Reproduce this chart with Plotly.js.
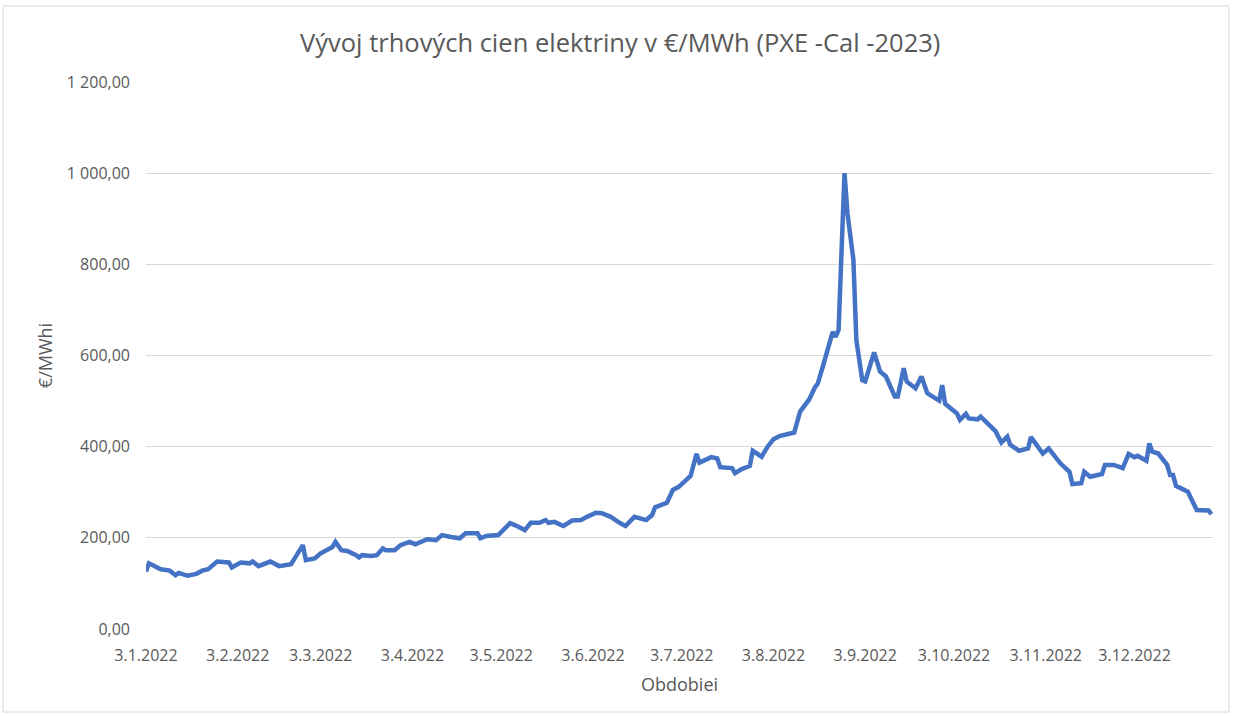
<!DOCTYPE html>
<html>
<head>
<meta charset="utf-8">
<script src="https://cdn.plot.ly/plotly-3.0.1.min.js"></script>
<style>
html,body{margin:0;padding:0;background:#fff;}
#chart{width:1233px;height:716px;}
</style>
</head>
<body>
<div id="chart"></div>
<script>
const dates = [
"2022-01-03","2022-01-04","2022-01-08","2022-01-11","2022-01-13","2022-01-14","2022-01-17","2022-01-20","2022-01-22","2022-01-24",
"2022-01-27","2022-01-31","2022-02-01","2022-02-04","2022-02-07","2022-02-08","2022-02-10","2022-02-14","2022-02-17","2022-02-21",
"2022-02-25","2022-02-26","2022-03-01","2022-03-03","2022-03-07","2022-03-08","2022-03-10","2022-03-12","2022-03-15","2022-03-16",
"2022-03-17","2022-03-20","2022-03-22","2022-03-24","2022-03-25","2022-03-28","2022-03-30","2022-04-02","2022-04-04","2022-04-08",
"2022-04-11","2022-04-13","2022-04-16","2022-04-19","2022-04-21","2022-04-25","2022-04-26","2022-04-28","2022-05-02","2022-05-03",
"2022-05-06","2022-05-08","2022-05-11","2022-05-13","2022-05-16","2022-05-18","2022-05-19","2022-05-21","2022-05-24","2022-05-27",
"2022-05-30","2022-06-01","2022-06-04","2022-06-06","2022-06-09","2022-06-12","2022-06-14","2022-06-17","2022-06-21","2022-06-23",
"2022-06-24","2022-06-28","2022-06-30","2022-07-02","2022-07-05","2022-07-06","2022-07-08","2022-07-09","2022-07-11","2022-07-13",
"2022-07-15","2022-07-16","2022-07-20","2022-07-21","2022-07-23","2022-07-26","2022-07-27","2022-07-30","2022-08-01","2022-08-03",
"2022-08-05","2022-08-10","2022-08-12","2022-08-15","2022-08-17","2022-08-18","2022-08-20","2022-08-23","2022-08-24","2022-08-25",
"2022-08-27","2022-08-28","2022-08-30","2022-08-31","2022-09-02","2022-09-03","2022-09-06","2022-09-08","2022-09-10","2022-09-13",
"2022-09-14","2022-09-16","2022-09-17","2022-09-20","2022-09-22","2022-09-24","2022-09-28","2022-09-29","2022-09-30","2022-10-04",
"2022-10-05","2022-10-07","2022-10-08","2022-10-11","2022-10-12","2022-10-15","2022-10-17","2022-10-19","2022-10-21","2022-10-22",
"2022-10-25","2022-10-28","2022-10-29","2022-11-02","2022-11-04","2022-11-08","2022-11-11","2022-11-12","2022-11-15","2022-11-16",
"2022-11-18","2022-11-22","2022-11-23","2022-11-26","2022-11-29","2022-12-01","2022-12-03","2022-12-04","2022-12-07","2022-12-08",
"2022-12-09","2022-12-11","2022-12-14","2022-12-15","2022-12-16","2022-12-17","2022-12-21","2022-12-24","2022-12-28","2022-12-29"
];
const prices = [
126,144,131,128,118,123,117,121,128,131,
148,146,135,146,144,148,138,148,138,142,
184,151,155,166,180,191,173,171,162,157,
162,160,162,177,173,173,184,191,186,197,
195,206,202,199,210,210,199,204,206,213,
232,227,217,233,233,239,233,235,226,238,
239,246,255,254,246,233,226,246,239,250,
267,277,305,312,331,336,384,365,371,377,
374,355,353,342,350,358,391,378,400,416,
423,431,477,503,530,539,583,652,641,656,
1000,912,810,634,546,543,607,565,554,510,
510,572,543,528,554,517,501,535,494,473,
459,472,462,460,466,448,434,409,422,404,
391,396,421,385,396,363,345,318,320,345,
334,340,360,360,353,384,377,380,369,407,
389,385,360,338,338,314,301,261,260,252
];
const xTickVals = ["2022-01-03","2022-02-03","2022-03-03","2022-04-03","2022-05-03","2022-06-03","2022-07-03","2022-08-03","2022-09-03","2022-10-03","2022-11-03","2022-12-03"];
const xTickText = ["3.1.2022","3.2.2022","3.3.2022","3.4.2022","3.5.2022","3.6.2022","3.7.2022","3.8.2022","3.9.2022","3.10.2022","3.11.2022","3.12.2022"];
const yTickVals = [0,200,400,600,800,1000,1200];
const yTickText = ["0,00","200,00","400,00","600,00","800,00","1 000,00","1 200,00"];

const FONT = "Open Sans, sans-serif";
const GREY = "#595959";

const trace = {
  x: dates, y: prices, type: "scatter", mode: "lines",
  line: {color: "#4472C4", width: 4.5, shape: "linear"},
  hoverinfo: "x+y"
};

const layout = {
  width: 1233, height: 716,
  margin: {l: 146, r: 20, t: 82, b: 87},
  paper_bgcolor: "#fff", plot_bgcolor: "#fff",
  showlegend: false,
  title: {text: "Vývoj trhových cien elektriny v €/MWh (PXE -Cal -2023)", x: 0.503, xref: "container", y: 0.94, yanchor: "middle",
          font: {family: FONT, size: 25.5, color: GREY}},
  xaxis: {
    type: "date", range: ["2022-01-03", "2022-12-29 12:00"],
    tickvals: xTickVals, ticktext: xTickText,
    showgrid: false, zeroline: false, showline: false, ticks: "",
    tickfont: {family: FONT, size: 16, color: GREY},
    ticklabelstandoff: 15,
    title: {text: "Obdobiei", font: {family: FONT, size: 18, color: GREY}, standoff: 13}
  },
  yaxis: {
    range: [0, 1200], tickvals: yTickVals, ticktext: yTickText,
    showgrid: true, gridcolor: "#d9d9d9", gridwidth: 1,
    zeroline: false, showline: false, ticks: "",
    tickfont: {family: FONT, size: 16, color: GREY},
    ticklabelstandoff: 15,
    title: {text: "€/MWhi", font: {family: FONT, size: 18, color: GREY}, standoff: 9}
  },
  shapes: [{
    type: "rect", xref: "paper", yref: "paper",
    x0: (3 - 146) / 1067, x1: (1229 - 146) / 1067,
    y0: (629 - 712) / 547, y1: (629 - 6) / 547,
    line: {color: "#d9d9d9", width: 1}, fillcolor: "rgba(0,0,0,0)", layer: "below"
  }]
};

Plotly.newPlot("chart", [trace], layout, {displayModeBar: false, staticPlot: true});
</script>
</body>
</html>
